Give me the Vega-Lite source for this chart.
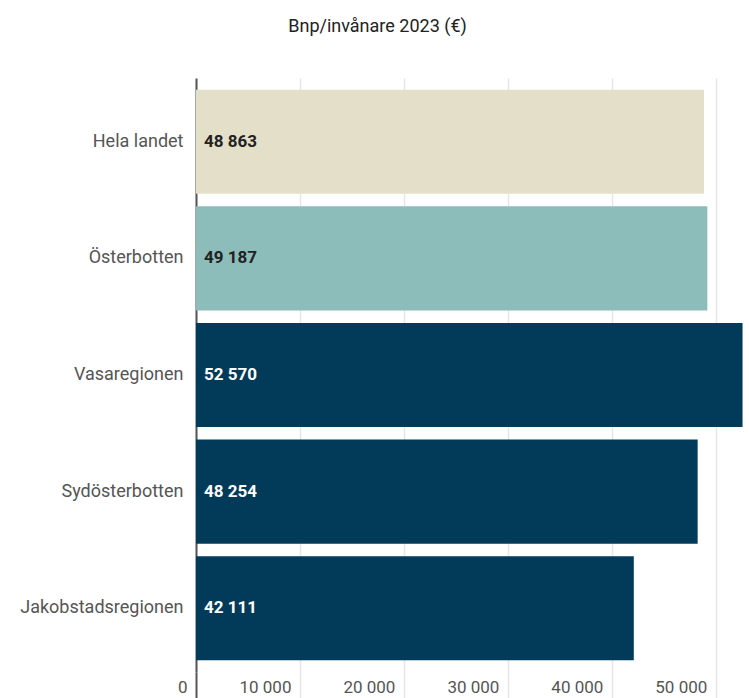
{
  "$schema": "https://vega.github.io/schema/vega-lite/v6.json",
  "autosize": {"type": "none"},
  "padding": {"left": 196, "top": 78, "right": 2, "bottom": 26},
  "width": 551,
  "height": 594,
  "background": "white",
  "title": {
    "text": "Bnp/invånare 2023 (€)",
    "font": "Roboto",
    "fontSize": 18,
    "fontWeight": "normal",
    "color": "#222",
    "anchor": "middle",
    "dx": -94,
    "offset": 42
  },
  "data": {
    "values": [
      {"region": "Hela landet", "value": 48863, "group": "land"},
      {"region": "Österbotten", "value": 49187, "group": "landskap"},
      {"region": "Vasaregionen", "value": 52570, "group": "region"},
      {"region": "Sydösterbotten", "value": 48254, "group": "region"},
      {"region": "Jakobstadsregionen", "value": 42111, "group": "region"}
    ]
  },
  "encoding": {
    "y": {
      "field": "region",
      "type": "nominal",
      "sort": null,
      "scale": {"paddingInner": 0.107, "paddingOuter": 0.1},
      "axis": {
        "title": null,
        "ticks": false,
        "labelPadding": 13,
        "labelFont": "Roboto",
        "labelFontSize": 18,
        "labelColor": "#555",
        "domainColor": "#555",
        "domainWidth": 2
      }
    }
  },
  "layer": [
    {
      "mark": {"type": "bar"},
      "encoding": {
        "x": {
          "field": "value",
          "type": "quantitative",
          "scale": {"domain": [0, 53000], "nice": false},
          "axis": {
            "title": null,
            "values": [0, 10000, 20000, 30000, 40000, 50000],
            "format": ",d",
            "domain": false,
            "grid": true,
            "gridColor": "#e6e6e6",
            "gridWidth": 1.5,
            "tickSize": 26,
            "tickColor": {"condition": {"test": "datum.value === 0", "value": "#555"}, "value": "#e6e6e6"},
            "tickWidth": {"condition": {"test": "datum.value === 0", "value": 2}, "value": 1.5},
            "labelAlign": "right",
            "labelOffset": -9,
            "labelPadding": -19,
            "labelFont": "Roboto",
            "labelFontSize": 17,
            "labelColor": "#555",
            "labelFlush": false
          }
        },
        "color": {
          "field": "group",
          "type": "nominal",
          "scale": {"domain": ["land", "landskap", "region"], "range": ["#e4dfc9", "#8dbdbb", "#023a59"]},
          "legend": null
        }
      }
    },
    {
      "mark": {"type": "text", "align": "left", "dx": 8, "font": "Roboto", "fontSize": 17, "fontWeight": "bold"},
      "encoding": {
        "x": {"datum": 0, "type": "quantitative"},
        "text": {"field": "value", "type": "quantitative", "format": ",d"},
        "color": {
          "condition": {"test": "datum.group !== 'region'", "value": "#222"},
          "value": "white"
        }
      }
    }
  ],
  "config": {
    "locale": {"number": {"decimal": ",", "thousands": " ", "grouping": [3], "currency": ["", " €"]}},
    "view": {"stroke": null}
  }
}
